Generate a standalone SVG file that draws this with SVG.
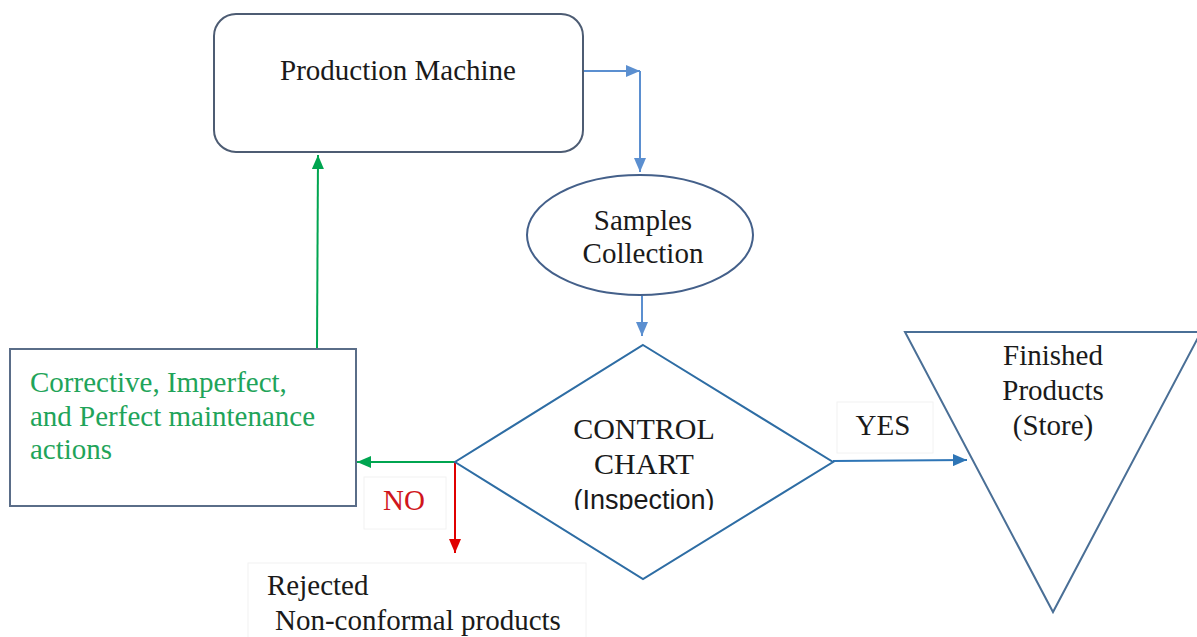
<svg xmlns="http://www.w3.org/2000/svg" width="1197" height="637" viewBox="0 0 1197 637">
  <defs>
    <style>
      .serif { font-family: "Liberation Serif", "Times New Roman", serif; fill: #1a1a1a; }
      .sans { font-family: "Liberation Sans", Arial, sans-serif; fill: #1a1a1a; }
      .node { fill: #ffffff; stroke-width: 2; }
      .conn { fill: none; stroke-width: 2; }
      .lblbox { fill: #ffffff; stroke: #f2f2f2; stroke-width: 1; }
    </style>
    <marker id="ahBlueLight" markerUnits="userSpaceOnUse" markerWidth="14" markerHeight="12" refX="14" refY="6" orient="auto">
      <path d="M0,0 L14,6 L0,12 Z" fill="#5b8fd0"/>
    </marker>
    <marker id="ahBlue" markerUnits="userSpaceOnUse" markerWidth="14" markerHeight="12" refX="14" refY="6" orient="auto">
      <path d="M0,0 L14,6 L0,12 Z" fill="#2e75b6"/>
    </marker>
    <marker id="ahGreen" markerUnits="userSpaceOnUse" markerWidth="14" markerHeight="12" refX="14" refY="6" orient="auto">
      <path d="M0,0 L14,6 L0,12 Z" fill="#00a550"/>
    </marker>
    <marker id="ahRed" markerUnits="userSpaceOnUse" markerWidth="14" markerHeight="12" refX="14" refY="6" orient="auto">
      <path d="M0,0 L14,6 L0,12 Z" fill="#e00000"/>
    </marker>
    <clipPath id="inspClip">
      <rect x="540" y="470" width="210" height="40"/>
    </clipPath>
  </defs>

  <rect width="1197" height="637" fill="#ffffff"/>

  <!-- connectors -->
  <g id="connectors">
    <path class="conn" d="M578,71 L640,71" stroke="#5b8fd0" marker-end="url(#ahBlueLight)"/>
    <path class="conn" d="M640,71 L640,172" stroke="#5b8fd0" marker-end="url(#ahBlueLight)"/>
    <path class="conn" d="M642,296 L642,336" stroke="#5b8fd0" marker-end="url(#ahBlueLight)"/>
    <path class="conn" d="M833,461 L967,460" stroke="#2e75b6" marker-end="url(#ahBlue)"/>
    <path class="conn" d="M455,462 L357,462" stroke="#00a550" marker-end="url(#ahGreen)"/>
    <path class="conn" d="M317,349 L318,155" stroke="#00a550" marker-end="url(#ahGreen)"/>
    <path class="conn" d="M455,462 L455,553" stroke="#e00000" marker-end="url(#ahRed)"/>
  </g>

  <!-- connector labels -->
  <g id="label-no">
    <rect class="lblbox" x="364" y="477" width="82" height="52"/>
    <text class="serif" x="404" y="510" font-size="29" text-anchor="middle" style="fill:#d0161c">NO</text>
  </g>
  <g id="label-yes">
    <rect class="lblbox" x="837" y="402" width="96" height="51"/>
    <text class="serif" x="883" y="435" font-size="29" text-anchor="middle">YES</text>
  </g>

  <!-- nodes -->
  <g id="production-machine">
    <rect class="node" x="214" y="14" width="369" height="138" rx="22" ry="22" stroke="#4d5c73"/>
    <text class="serif" x="398" y="80" font-size="29" text-anchor="middle">Production Machine</text>
  </g>

  <g id="samples-collection">
    <ellipse class="node" cx="640" cy="235" rx="113" ry="60" stroke="#44608a"/>
    <text class="serif" x="643" y="230" font-size="29" text-anchor="middle">Samples</text>
    <text class="serif" x="643" y="263" font-size="29" text-anchor="middle">Collection</text>
  </g>

  <g id="control-chart">
    <polygon class="node" points="643,345 833,462 643,579 455,462" stroke="#2e6da4"/>
    <text class="serif" x="644" y="439" font-size="30" text-anchor="middle">CONTROL</text>
    <text class="serif" x="644" y="474" font-size="30" text-anchor="middle">CHART</text>
    <text class="sans" x="644" y="509" font-size="27" text-anchor="middle" clip-path="url(#inspClip)">(Inspection)</text>
  </g>

  <g id="maintenance-actions">
    <rect class="node" x="10" y="349" width="346" height="157" stroke="#5a6d88"/>
    <text class="serif" x="30" y="392" font-size="29" style="fill:#1fa45a">Corrective, Imperfect,</text>
    <text class="serif" x="30" y="426" font-size="29" style="fill:#1fa45a">and Perfect maintenance</text>
    <text class="serif" x="30" y="459" font-size="29" style="fill:#1fa45a">actions</text>
  </g>

  <g id="rejected-products">
    <rect class="lblbox" x="248" y="563" width="338" height="80"/>
    <text class="serif" x="267" y="595" font-size="29">Rejected</text>
    <text class="serif" x="275" y="630" font-size="29">Non-conformal products</text>
  </g>

  <g id="finished-products">
    <polygon class="node" points="905,332 1201,332 1053,612" stroke="#4a6f96"/>
    <text class="serif" x="1053" y="365" font-size="29" text-anchor="middle">Finished</text>
    <text class="serif" x="1053" y="400" font-size="29" text-anchor="middle">Products</text>
    <text class="serif" x="1053" y="435" font-size="29" text-anchor="middle">(Store)</text>
  </g>
</svg>
